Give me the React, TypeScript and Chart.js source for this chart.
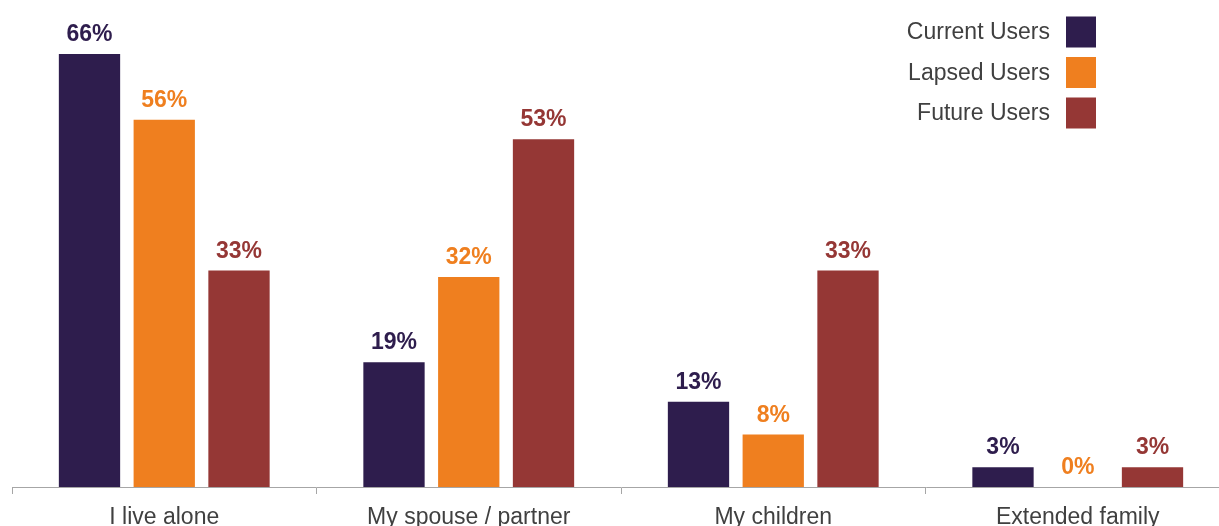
import React, { useEffect, useRef } from "react";
import { Chart, registerables } from "chart.js";

Chart.register(...registerables);

const categories = ["I live alone", "My spouse / partner", "My children", "Extended family"];
const seriesNames = ["Current Users", "Lapsed Users", "Future Users"];
const currentUsers = [66, 19, 13, 3];
const lapsedUsers = [56, 32, 8, 0];
const futureUsers = [33, 53, 33, 3];
const seriesColors = ["#2E1D4D", "#EF7F1F", "#953735"];

const FONT = "'Liberation Sans', Arial, sans-serif";

const valueLabels = {
  id: "valueLabels",
  afterDatasetsDraw(chart: any) {
    const ctx = chart.ctx;
    ctx.save();
    ctx.font = `bold 23px ${FONT}`;
    ctx.textAlign = "center";
    ctx.textBaseline = "alphabetic";
    chart.data.datasets.forEach((ds: any, i: number) => {
      const meta = chart.getDatasetMeta(i);
      ctx.fillStyle = ds.backgroundColor;
      meta.data.forEach((el: any, j: number) => {
        ctx.fillText(`${ds.data[j]}%`, el.x, el.y - 13);
      });
    });
    ctx.restore();
  },
};

const sideLegend = {
  id: "sideLegend",
  afterDraw(chart: any) {
    const ctx = chart.ctx;
    ctx.save();
    ctx.font = `23px ${FONT}`;
    ctx.textAlign = "right";
    ctx.textBaseline = "middle";
    chart.data.datasets.forEach((ds: any, i: number) => {
      const cy = 32 + i * 40.5;
      ctx.fillStyle = "#404040";
      ctx.fillText(ds.label, 1050, cy + 1);
      ctx.fillStyle = ds.backgroundColor;
      ctx.fillRect(1066, cy - 15.5, 30, 31);
    });
    ctx.restore();
  },
};

export default function App() {
  const ref = useRef<HTMLCanvasElement>(null);
  useEffect(() => {
    const values = [currentUsers, lapsedUsers, futureUsers];
    const chart = new Chart(ref.current!, {
      type: "bar",
      data: {
        labels: categories,
        datasets: seriesNames.map((name, i) => ({
          label: name,
          data: values[i],
          backgroundColor: seriesColors[i],
          categoryPercentage: 0.7365,
          barPercentage: 0.82,
        })),
      },
      options: {
        responsive: false,
        animation: false,
        devicePixelRatio: 1,
        layout: { padding: { left: 12, right: 10, top: 0, bottom: 0 } },
        plugins: { legend: { display: false }, tooltip: { enabled: false } },
        scales: {
          y: { display: false, min: 0, max: 74.24 },
          x: {
            afterFit(scale: any) {
              scale.height = 39;
            },
            grid: {
              offset: true,
              drawOnChartArea: false,
              drawTicks: true,
              tickLength: 7,
              color: "#A6A6A6",
            },
            border: { display: true, color: "#A6A6A6", width: 1 },
            ticks: {
              padding: 10,
              color: "#404040",
              font: { family: FONT, size: 23 },
              maxRotation: 0,
              autoSkip: false,
            },
          },
        },
      },
      plugins: [valueLabels, sideLegend],
    } as any);
    return () => chart.destroy();
  }, []);
  return (
    <div style={{ position: "absolute", left: 0, top: 0, width: 1219, height: 526, overflow: "hidden", background: "#fff" }}>
      <canvas ref={ref} width={1240} height={526} style={{ display: "block" }} />
    </div>
  );
}
